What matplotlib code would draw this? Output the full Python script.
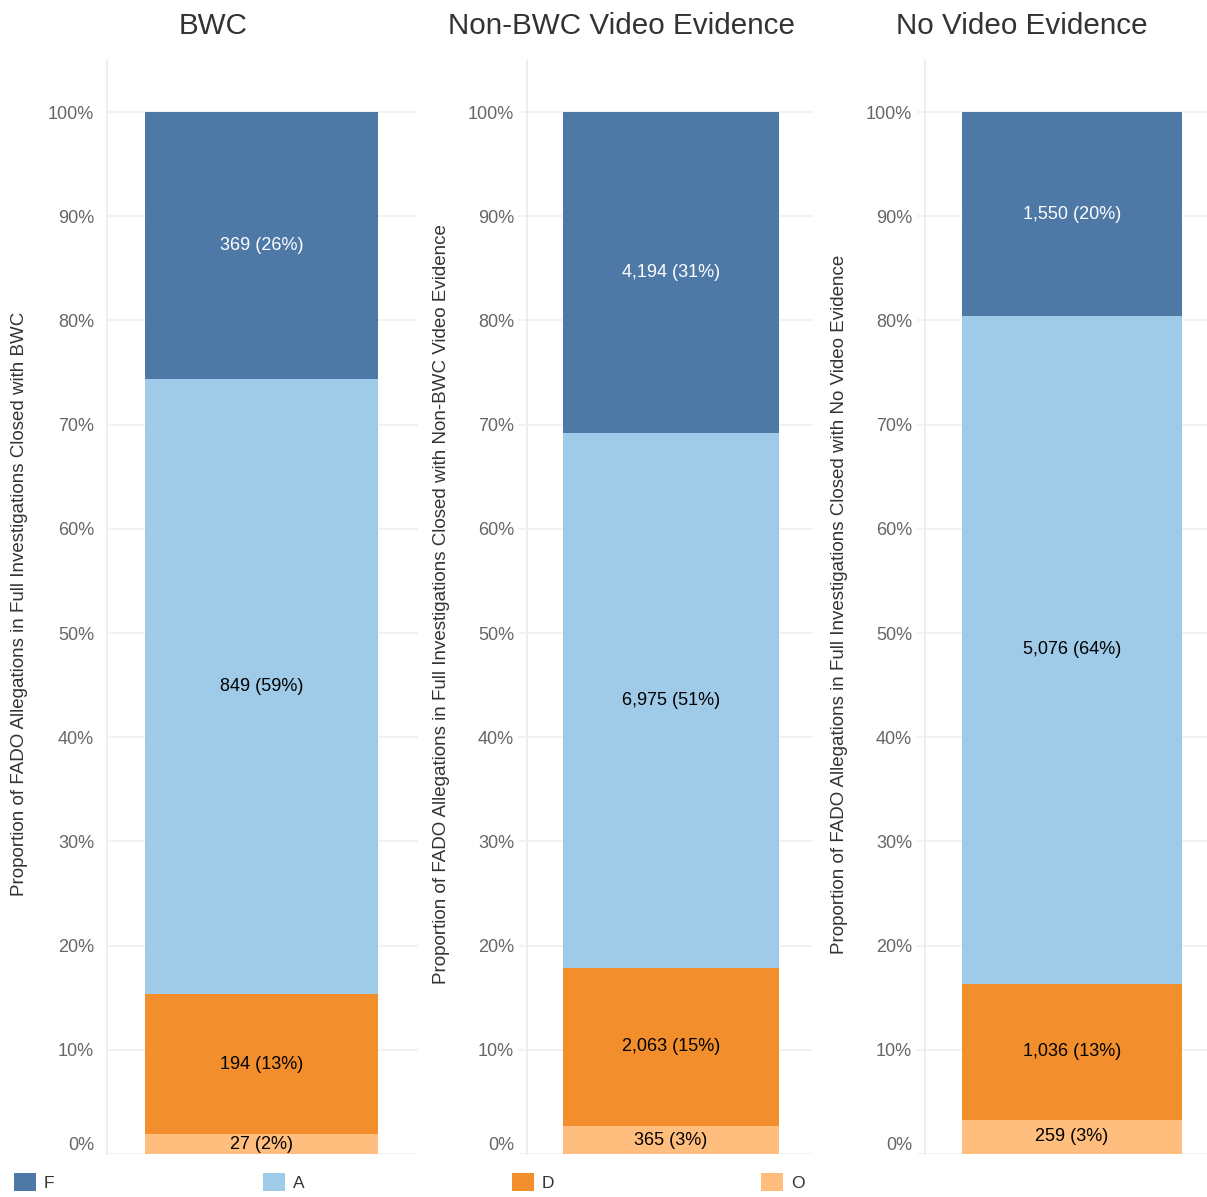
import matplotlib
matplotlib.use("Agg")
import matplotlib.pyplot as plt
from matplotlib.patches import Patch
from matplotlib.transforms import ScaledTranslation

plt.rcParams['font.family'] = ['Liberation Sans', 'DejaVu Sans']

# ---- data ----
panels = ["BWC", "Non-BWC Video Evidence", "No Video Evidence"]
categories = ["O", "D", "A", "F"]          # stacked bottom -> top
legend_order = ["F", "A", "D", "O"]
counts_bwc = [27, 194, 849, 369]
counts_nonbwc = [365, 2063, 6975, 4194]
counts_novideo = [259, 1036, 5076, 1550]
all_counts = [counts_bwc, counts_nonbwc, counts_novideo]
yticks = [0, 0.1, 0.2, 0.3, 0.4, 0.5, 0.6, 0.7, 0.8, 0.9, 1.0]
ytick_labels = ["0%", "10%", "20%", "30%", "40%", "50%", "60%", "70%", "80%", "90%", "100%"]
ylabels = ["Proportion of FADO Allegations in Full Investigations Closed with " + p for p in panels]

colors = {"F": "#4E79A7", "A": "#A0CBE8", "D": "#F28E2B", "O": "#FFBE7D"}
text_colors = {"F": "white", "A": "black", "D": "black", "O": "black"}

W, H = 1207, 1197
fig = plt.figure(figsize=(W / 100, H / 100), dpi=100)
PX = 72 / 100  # points per pixel

# layout in pixels: (axes left, axes right, bar left, bar right, spine inset)
layout = [
    (107, 418, 145, 378, 0),
    (518, 813, 563, 779, 9),
    (917, 1207, 962, 1182, 8),
]
ax_bottom_px = 1154
ax_top_px = 60
title_x = [213, 622, 1022]
ylabel_x = [20, 441, 840]

for i, (name, counts) in enumerate(zip(panels, all_counts)):
    L, R, bl, br, inset = layout[i]
    ax = fig.add_axes([L / W, (H - ax_bottom_px) / H, (R - L) / W, (ax_bottom_px - ax_top_px) / H])
    total = sum(counts)
    bottom = 0.0
    for cat, c in zip(categories, counts):
        frac = c / total
        ax.bar(0, frac, width=1.0, bottom=bottom, color=colors[cat], zorder=2)
        ax.text(0, bottom + frac / 2, f"{c:,} ({round(frac * 100):.0f}%)",
                ha="center", va="center", fontsize=13, color=text_colors[cat], zorder=3)
        bottom += frac
    s = br - bl
    ax.set_xlim(-0.5 - (bl - L) / s, 0.5 + (R - br) / s)
    ax.set_ylim(0, 1.05)
    ax.set_yticks(yticks)
    ax.set_yticklabels(ytick_labels)
    ax.set_xticks([])
    ax.tick_params(axis="y", length=0, pad=13 * PX, labelsize=13, labelcolor="#666666")
    ax.grid(axis="y", color="#f0f0f0", linewidth=1.2, zorder=0)
    for sp in ["top", "right", "bottom"]:
        ax.spines[sp].set_visible(False)
    ax.spines["left"].set_color("#ebebeb")
    ax.spines["left"].set_linewidth(1.2)
    if inset:
        ax.spines["left"].set_position(("outward", -inset * PX))
    # shift 0% label up
    lbl0 = ax.get_yticklabels()[0]
    lbl0.set_transform(lbl0.get_transform() + ScaledTranslation(0, 10 / 100, fig.dpi_scale_trans))
    ax.set_ylabel(ylabels[i], fontsize=13.5, color="#333333")
    ax.yaxis.label.set_va("center")
    ax.yaxis.set_label_coords(ylabel_x[i] / W, (H - 604) / H, transform=fig.transFigure)
    fig.text(title_x[i] / W, 1 - 26 / H, name, ha="center", va="center", fontsize=21.3, color="#333333")

# legend
leg_x = [14, 263, 512, 761]
for x, cat in zip(leg_x, legend_order):
    fig.legend(handles=[Patch(facecolor=colors[cat], edgecolor="none")], labels=[cat],
               loc="center left", bbox_to_anchor=(x / W, 1 - 1182 / H),
               frameon=False, fontsize=12.5, handlelength=1.27, handleheight=1.27,
               handletextpad=0.46, borderpad=0, borderaxespad=0,
               labelcolor="#333333")

fig.savefig("out.png", dpi=100, facecolor="white")
